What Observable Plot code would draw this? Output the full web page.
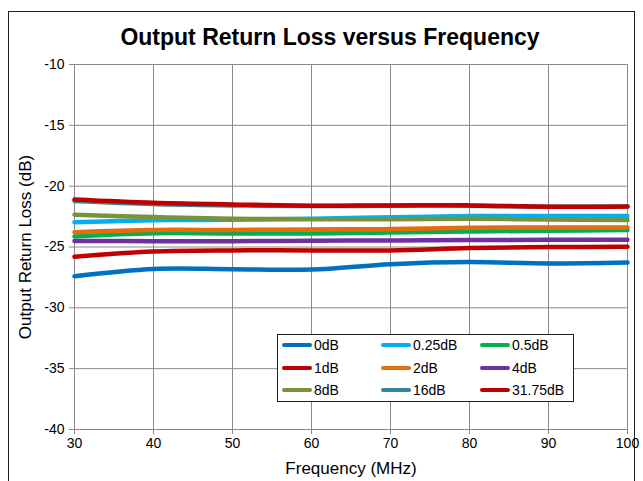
<!DOCTYPE html>
<html>
<head>
<meta charset="utf-8">
<script src="https://cdn.jsdelivr.net/npm/d3@7"></script>
<script src="https://cdn.jsdelivr.net/npm/@observablehq/plot@0.6"></script>
<style>
  html, body { margin: 0; padding: 0; background: #fff; }
  body { font-family: "Liberation Sans", Arial, sans-serif; }
  #wrap { position: relative; width: 643px; height: 481px; overflow: hidden; }
  #frame { position: absolute; left: 8px; top: 11px; width: 627px; height: 490px; border: 1px solid #222; box-sizing: border-box; }
  #title { position: absolute; left: 0; top: 23px; width: 660px; text-align: center; font-weight: bold; font-size: 23px; line-height: 28px; color: #000; }
  #chart { position: absolute; left: 0; top: 0; }
  #legend { position: absolute; left: 277px; top: 334px; width: 297px; height: 68px; border: 1px solid #222; box-sizing: border-box; background: #fff; font-size: 14px; color: #000; }
  .item { position: absolute; height: 16px; line-height: 16px; }
  .sw { position: absolute; left: 0; top: 6px; width: 30px; height: 4px; border-radius: 2px; }
  .lb { position: absolute; left: 32px; top: 0; white-space: nowrap; }
</style>
</head>
<body>
<div id="wrap">
  <div id="frame"></div>
  <div id="chart"></div>
  <div id="title">Output Return Loss versus Frequency</div>
  <div id="legend"></div>
</div>
<script>
const freq = [30, 40, 50, 60, 70, 80, 90, 100];
const seriesNames = ["0dB", "0.25dB", "0.5dB", "1dB", "2dB", "4dB", "8dB", "16dB", "31.75dB"];
const seriesColors = ["#0070C0", "#00B0F0", "#00B050", "#C00000", "#E46C0A", "#7030A0", "#77933C", "#31859C", "#C00000"];
const s0    = [-27.4, -26.8, -26.82, -26.85, -26.41, -26.24, -26.35, -26.27];
const s025  = [-22.96, -22.8, -22.76, -22.68, -22.56, -22.46, -22.46, -22.46];
const s05   = [-24.13, -23.86, -23.89, -23.89, -23.8, -23.72, -23.67, -23.6];
const s1    = [-25.8, -25.37, -25.28, -25.28, -25.28, -25.09, -25.01, -24.98];
const s2    = [-23.78, -23.6, -23.6, -23.56, -23.53, -23.42, -23.4, -23.4];
const s4    = [-24.5, -24.52, -24.52, -24.49, -24.46, -24.43, -24.41, -24.41];
const s8    = [-22.35, -22.54, -22.68, -22.71, -22.71, -22.68, -22.74, -22.79];
const s16   = [-21.22, -21.47, -21.58, -21.64, -21.6, -21.6, -21.7, -21.68];
const s3175 = [-21.1, -21.37, -21.5, -21.61, -21.58, -21.58, -21.69, -21.67];
const xTicks = [30, 40, 50, 60, 70, 80, 90, 100];
const yTicks = [-40, -35, -30, -25, -20, -15, -10];
const xLabel = "Frequency (MHz)";
const yLabel = "Output Return Loss (dB)";

const allSeries = [s0, s025, s05, s1, s2, s4, s8, s16, s3175];
const rows = [];
allSeries.forEach((vals, i) => {
  vals.forEach((v, j) => rows.push({series: seriesNames[i], f: freq[j], v}));
});

const gridColor = "#8a8a8a";
const fmt = (d) => String(d);
const chart = Plot.plot({
  width: 643,
  height: 481,
  marginLeft: 74,
  marginRight: 16,
  marginTop: 64,
  marginBottom: 52,
  style: {fontFamily: "'Liberation Sans', Arial, sans-serif", fontSize: "14px", color: "#000", background: "transparent"},
  x: {domain: [30, 100]},
  y: {domain: [-40, -10]},
  marks: [
    Plot.gridX(xTicks, {stroke: gridColor, strokeOpacity: 1, strokeWidth: 1}),
    Plot.gridY(yTicks, {stroke: gridColor, strokeOpacity: 1, strokeWidth: 1}),
    Plot.axisX(xTicks, {tickSize: 5, tickPadding: 4, stroke: gridColor, fontSize: 14, tickFormat: fmt, label: null}),
    Plot.axisY(yTicks, {tickSize: 5, tickPadding: 5, stroke: gridColor, fontSize: 14, tickFormat: fmt, label: null}),
    Plot.axisX([], {fontSize: 17, label: xLabel, labelAnchor: "center", labelArrow: "none", labelOffset: 44}),
    Plot.axisY([], {fontSize: 17, label: yLabel, labelAnchor: "center", labelArrow: "none", labelOffset: 56}),
    Plot.ruleX([30], {stroke: gridColor}),
    Plot.ruleY([-40], {stroke: gridColor}),
    Plot.line(rows, {x: "f", y: "v", z: "series", stroke: (d) => seriesColors[seriesNames.indexOf(d.series)],
      strokeWidth: 4.5, curve: "catmull-rom"})
  ]
});
document.getElementById("chart").appendChild(chart);

// legend
const legend = document.getElementById("legend");
const colX = [4, 103, 202];
const rowY = [2, 25, 47];
seriesNames.forEach((name, i) => {
  const it = document.createElement("div");
  it.className = "item";
  it.style.left = colX[i % 3] + "px";
  it.style.top = rowY[Math.floor(i / 3)] + "px";
  const sw = document.createElement("div");
  sw.className = "sw";
  sw.style.background = seriesColors[i];
  const lb = document.createElement("div");
  lb.className = "lb";
  lb.textContent = name;
  it.appendChild(sw); it.appendChild(lb);
  legend.appendChild(it);
});
</script>
</body>
</html>
